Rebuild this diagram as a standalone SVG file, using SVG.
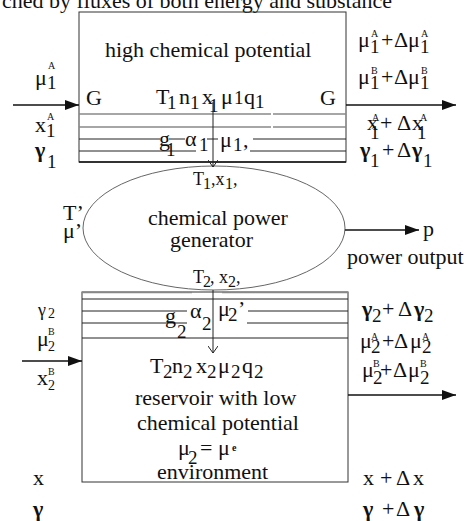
<svg xmlns="http://www.w3.org/2000/svg" width="466" height="521" viewBox="0 0 466 521">
<style>
.t{font-family:"Liberation Serif","Times New Roman",serif;font-size:22px;fill:#111}
.s{font-size:19px}
.m{font-size:18px}
.sp{font-size:10px}
.b{font-weight:bold}
.edge{fill:none;stroke:#333;stroke-width:1}
.gl{stroke:#888;stroke-width:1.6}
.bl{stroke:#222;stroke-width:1}
.cn{stroke:#111;stroke-width:1.3;fill:none}
</style>
<defs>
<marker id="ah" viewBox="0 0 14 10" refX="14" refY="5" markerWidth="14" markerHeight="10" markerUnits="userSpaceOnUse" orient="auto"><path d="M0,0 L14,5 L0,10 z" fill="#111"/></marker>
<marker id="oh" viewBox="0 0 8 10" refX="7" refY="5" markerWidth="8" markerHeight="10" markerUnits="userSpaceOnUse" orient="auto"><path d="M0,0 L7,5 L0,10" fill="none" stroke="#222" stroke-width="1"/></marker>
</defs>
<rect width="466" height="521" fill="#fff"/>
<text class="t" x="2" y="8" font-size="26.3">ched by fluxes of both energy and substance</text>

<g id="high-reservoir">
<rect class="edge" x="79" y="12" width="267" height="150"/>
<line x1="79" y1="162" x2="346" y2="162" stroke="#111" stroke-width="1.6"/>
<line class="gl" x1="79" y1="114" x2="271" y2="114"/><line class="gl" x1="273" y1="114" x2="346" y2="114"/>
<line class="gl" x1="79" y1="127" x2="271" y2="127"/><line class="gl" x1="273" y1="127" x2="346" y2="127"/>
<line class="bl" x1="79" y1="139" x2="160" y2="139"/><line class="bl" x1="169" y1="139" x2="185" y2="139"/><line class="bl" x1="207" y1="139" x2="218" y2="139"/><line class="bl" x1="253" y1="139" x2="346" y2="139"/>
<line class="bl" x1="79" y1="151" x2="196" y2="151"/><line class="bl" x1="250" y1="151" x2="346" y2="151"/>
<text class="t" x="105" y="57">high chemical potential</text>
<text class="t" x="86" y="104.5">G</text>
<text class="t" x="320" y="104.5">G</text>
<text class="t"><tspan x="156" y="104">T</tspan><tspan class="s" x="167" y="109">1</tspan><tspan x="179" y="104">n</tspan><tspan class="s" x="190" y="109">1</tspan><tspan x="202" y="104">x</tspan><tspan class="s" x="209" y="112">1</tspan><tspan x="221" y="104">μ</tspan><tspan class="s" x="234" y="104">1</tspan><tspan x="244" y="104">q</tspan><tspan class="s" x="255" y="108">1</tspan></text>
<text class="t"><tspan x="159" y="146">g</tspan><tspan class="s" x="166" y="156">1</tspan><tspan x="185" y="146">α</tspan><tspan class="s" x="199" y="151">1</tspan><tspan x="220" y="147">μ</tspan><tspan class="s" x="233" y="151">1</tspan><tspan x="243" y="147">,</tspan></text>
</g>

<g id="generator">
<ellipse cx="214" cy="228" rx="131" ry="62" fill="none" stroke="#666" stroke-width="1"/>
<text class="t m"><tspan x="193" y="185">T</tspan><tspan x="203" y="189" font-size="16">1</tspan><tspan x="211" y="185">,x</tspan><tspan x="225" y="189" font-size="16">1</tspan><tspan x="233" y="185">,</tspan></text>
<text class="t" x="148" y="225">chemical power</text>
<text class="t" x="170" y="247">generator</text>
<text class="t m"><tspan x="193" y="283">T</tspan><tspan x="203" y="287" font-size="16">2</tspan><tspan x="210" y="283">, x</tspan><tspan x="228" y="287" font-size="16">2</tspan><tspan x="236" y="283">,</tspan></text>
</g>

<g id="low-reservoir">
<rect class="edge" x="82" y="292" width="266" height="190"/>
<line x1="82" y1="292.5" x2="192" y2="292.5" stroke="#888" stroke-width="1.6"/><line x1="222" y1="292.5" x2="348" y2="292.5" stroke="#888" stroke-width="1.6"/>
<line class="bl" x1="82" y1="299" x2="348" y2="299"/>
<line class="bl" x1="82" y1="311" x2="187" y2="311"/><line class="bl" x1="248" y1="311" x2="348" y2="311"/>
<line class="bl" x1="82" y1="323" x2="187" y2="323"/><line class="bl" x1="247" y1="323" x2="348" y2="323"/>
<line class="bl" x1="82" y1="338" x2="348" y2="338"/>
<text class="t"><tspan x="165" y="323">g</tspan><tspan class="s" x="177" y="338">2</tspan><tspan x="190" y="318">α</tspan><tspan class="s" x="202" y="330">2</tspan><tspan x="218" y="316">μ</tspan><tspan class="s" x="228" y="321">2</tspan><tspan x="238" y="316">’</tspan></text>
<text class="t"><tspan x="150" y="373">T</tspan><tspan class="s" x="163" y="378">2</tspan><tspan x="172" y="373">n</tspan><tspan class="s" x="183" y="378">2</tspan><tspan x="196" y="373">x</tspan><tspan class="s" x="207" y="378">2</tspan><tspan x="218" y="373">μ</tspan><tspan class="s" x="231" y="378">2</tspan><tspan x="242" y="373">q</tspan><tspan class="s" x="254" y="378">2</tspan></text>
<text class="t" x="135" y="405">reservoir with low</text>
<text class="t" x="137" y="430">chemical potential</text>
<text class="t"><tspan x="178" y="455">μ</tspan><tspan class="s" x="188" y="464">2</tspan><tspan x="200" y="455">=</tspan><tspan x="218" y="455">μ</tspan><tspan class="sp b" x="232" y="451">e</tspan></text>
<text class="t" x="157" y="479">environment</text>
</g>

<g id="connectors">
<line class="cn" x1="13" y1="105" x2="79" y2="105" marker-end="url(#ah)"/>
<line class="cn" x1="346" y1="105" x2="456" y2="105" marker-end="url(#ah)"/>
<line class="cn" x1="345" y1="230" x2="419" y2="230" marker-end="url(#ah)"/>
<line class="cn" x1="22" y1="361" x2="82" y2="361" marker-end="url(#ah)"/>
<line class="cn" x1="348" y1="395" x2="456" y2="395" marker-end="url(#ah)"/>
<line x1="213" y1="102" x2="213" y2="167" stroke="#222" stroke-width="1" marker-end="url(#oh)"/>
<line x1="213" y1="290" x2="213" y2="353" stroke="#222" stroke-width="1" marker-end="url(#oh)"/>
</g>

<g id="labels">
<text class="t"><tspan x="35" y="85">μ</tspan><tspan class="s" x="47" y="89">1</tspan><tspan class="sp" x="48" y="69">A</tspan></text>
<text class="t"><tspan x="35" y="132">x</tspan><tspan class="s" x="46" y="137">1</tspan><tspan class="sp" x="47" y="120">A</tspan></text>
<text class="t"><tspan class="b" x="35" y="157">γ</tspan><tspan class="s" x="47" y="168">1</tspan></text>

<text class="t"><tspan x="358" y="47">μ</tspan><tspan class="s" x="370" y="53">1</tspan><tspan class="sp" x="371" y="37">A</tspan><tspan x="381" y="47">+</tspan><tspan x="394" y="47">Δ</tspan><tspan x="408" y="47">μ</tspan><tspan class="s" x="420" y="53">1</tspan><tspan class="sp" x="421" y="37">A</tspan></text>
<text class="t"><tspan x="358" y="84">μ</tspan><tspan class="s" x="370" y="89">1</tspan><tspan class="sp" x="371" y="74">B</tspan><tspan x="381" y="84">+</tspan><tspan x="394" y="84">Δ</tspan><tspan x="408" y="84">μ</tspan><tspan class="s" x="420" y="89">1</tspan><tspan class="sp" x="421" y="74">B</tspan></text>
<text class="t"><tspan x="367" y="130">x</tspan><tspan class="s" x="370" y="139">1</tspan><tspan class="sp" x="372" y="121">A</tspan><tspan x="380" y="130">+</tspan><tspan x="397" y="130">Δ</tspan><tspan x="412" y="130">x</tspan><tspan class="s" x="417" y="139">1</tspan><tspan class="sp" x="420" y="121">A</tspan></text>
<text class="t"><tspan class="b" x="360" y="157">γ</tspan><tspan class="s" x="370" y="167">1</tspan><tspan x="382" y="157">+</tspan><tspan x="397" y="157">Δ</tspan><tspan class="b" x="412" y="157">γ</tspan><tspan class="s" x="423" y="167">1</tspan></text>

<text class="t" x="63" y="220">T’</text>
<text class="t" x="63" y="238">μ’</text>
<text class="t" x="423" y="236">p</text>
<text class="t" x="347" y="264">power output</text>

<text class="t"><tspan class="m" x="38" y="316">γ</tspan><tspan font-size="14" x="48" y="318">2</tspan></text>
<text class="t"><tspan x="37" y="346">μ</tspan><tspan font-size="14" x="48" y="351">2</tspan><tspan class="sp" x="48" y="335">B</tspan></text>
<text class="t"><tspan x="37" y="385">x</tspan><tspan font-size="14" x="48" y="390">2</tspan><tspan class="sp" x="48" y="375">B</tspan></text>

<text class="t"><tspan class="b" x="362" y="316">γ</tspan><tspan class="s" x="372" y="322">2</tspan><tspan x="382" y="316">+</tspan><tspan x="398" y="316">Δ</tspan><tspan class="b" x="414" y="316">γ</tspan><tspan class="s" x="424" y="322">2</tspan></text>
<text class="t"><tspan x="360" y="348">μ</tspan><tspan class="s" x="371" y="353">2</tspan><tspan class="sp" x="371" y="340">A</tspan><tspan x="382" y="348">+</tspan><tspan x="394" y="348">Δ</tspan><tspan x="410" y="348">μ</tspan><tspan class="s" x="422" y="353">2</tspan><tspan class="sp" x="422" y="340">A</tspan></text>
<text class="t"><tspan x="362" y="377">μ</tspan><tspan class="s" x="373" y="384">2</tspan><tspan class="sp" x="373" y="367">B</tspan><tspan x="380" y="377">+</tspan><tspan x="393" y="377">Δ</tspan><tspan x="408" y="377">μ</tspan><tspan class="s" x="420" y="384">2</tspan><tspan class="sp" x="420" y="367">B</tspan></text>

<text class="t" x="33" y="485">x</text>
<text class="t b" x="33" y="516">γ</text>
<text class="t"><tspan x="363" y="485">x</tspan><tspan x="380" y="485">+</tspan><tspan x="396" y="485">Δ</tspan><tspan x="413" y="485">x</tspan></text>
<text class="t"><tspan class="b" x="363" y="516">γ</tspan><tspan x="382" y="516">+</tspan><tspan x="396" y="516">Δ</tspan><tspan class="b" x="414" y="516">γ</tspan></text>
</g>
</svg>
